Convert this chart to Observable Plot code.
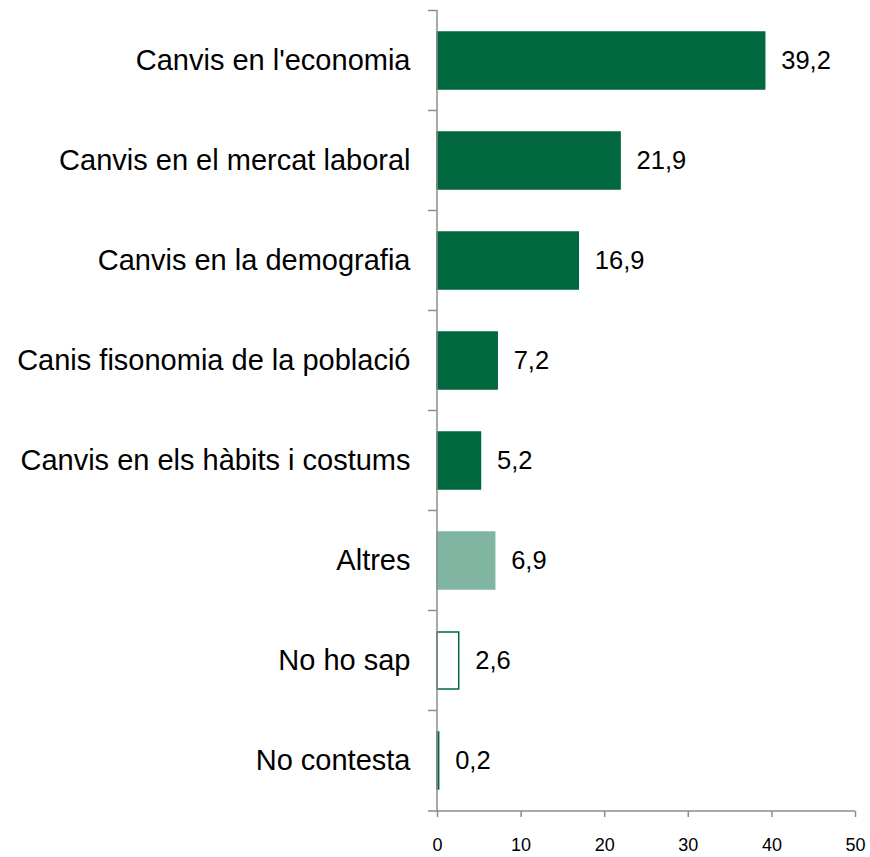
<!DOCTYPE html>
<html>
<head>
<meta charset="utf-8">
<script src="https://cdn.jsdelivr.net/npm/d3@7"></script>
<script src="https://cdn.jsdelivr.net/npm/@observablehq/plot@0.6"></script>
<style>
  html, body { margin: 0; padding: 0; background: #fff; }
  svg { font-family: "Liberation Sans", Arial, sans-serif; }
</style>
</head>
<body>
<div id="chart"></div>
<script>
const categories = [
  "Canvis en l'economia",
  "Canvis en el mercat laboral",
  "Canvis en la demografia",
  "Canis fisonomia de la població",
  "Canvis en els hàbits i costums",
  "Altres",
  "No ho sap",
  "No contesta"
];
const values = [39.2, 21.9, 16.9, 7.2, 5.2, 6.9, 2.6, 0.2];
const groups = ["main", "main", "main", "main", "main", "other", "unknown", "unknown"];
const xTicks = [0, 10, 20, 30, 40, 50];

const data = categories.map((c, i) => ({category: c, value: values[i], group: groups[i]}));

const dark = "#00673f";
const light = "#80b5a2";
const axisColor = "#8c8c8c";
const fmt = v => v.toFixed(1).replace(".", ",");

// Boundary ticks on the band axis and the bottom axis line, derived from the scales
function bandAxis(index, scales, values, dims) {
  const y = scales.y;
  const step = y.step ? y.step() : 100;
  const x0 = scales.x(0);
  const g = d3.create("svg:g").attr("stroke", axisColor).attr("stroke-width", 1.5);
  const top = dims.marginTop;
  const bottom = dims.height - dims.marginBottom;
  const bounds = categories.map(c => y(c) + y.bandwidth() / 2 - step / 2);
  bounds.push(bottom);
  g.append("line").attr("x1", x0).attr("x2", x0).attr("y1", top).attr("y2", bottom);
  g.append("line").attr("x1", x0).attr("x2", dims.width - dims.marginRight).attr("y1", bottom).attr("y2", bottom);
  for (const b of bounds) {
    g.append("line").attr("x1", x0 - 9).attr("x2", x0).attr("y1", b).attr("y2", b);
  }
  return g.node();
}

const chart = Plot.plot({
  width: 870,
  height: 857,
  marginLeft: 437,
  marginRight: 15,
  marginTop: 10,
  marginBottom: 46,
  style: {fontFamily: "'Liberation Sans', Arial, sans-serif", background: "#fff"},
  x: {domain: [0, 50], ticks: xTicks, label: null},
  y: {domain: categories, paddingInner: 0.43, paddingOuter: 0.215, label: null},
  color: {domain: ["main", "other", "unknown"], range: [dark, light, "#ffffff"]},
  marks: [
    Plot.barX(data, {
      x: "value", y: "category", fill: "group",
      stroke: d => d.group === "other" ? light : dark, strokeWidth: 1.5
    }),
    Plot.text(data, {
      x: "value", y: "category", text: d => fmt(d.value),
      textAnchor: "start", dx: 16, fontSize: 25.5, fill: "#000"
    }),
    Plot.axisY({tickSize: 0, tickPadding: 27, fontSize: 29, fill: "#000", label: null}),
    Plot.axisX({ticks: xTicks, tickSize: 6, label: null, stroke: axisColor, strokeWidth: 1.5, text: null}),
    Plot.text(xTicks, {
      x: d => d, frameAnchor: "bottom", lineAnchor: "top", dy: 27,
      text: d => String(d), fontSize: 18, fill: "#000"
    }),
    bandAxis
  ]
});
document.getElementById("chart").appendChild(chart);
</script>
</body>
</html>
